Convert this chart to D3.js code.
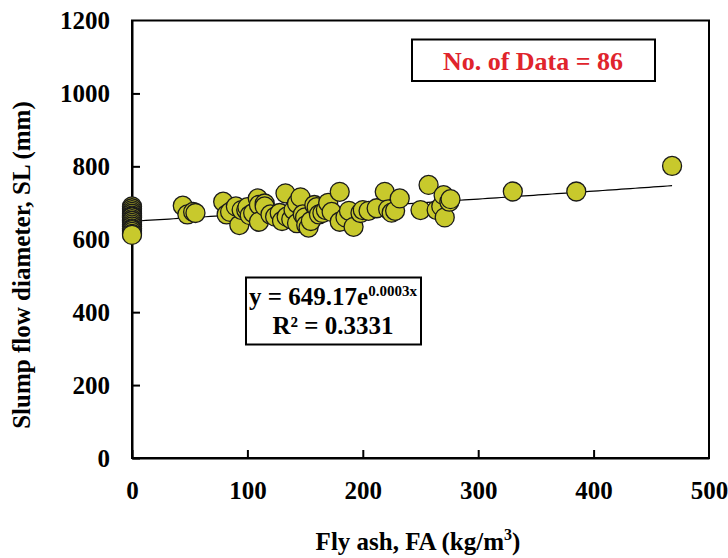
<!DOCTYPE html>
<html>
<head>
<meta charset="utf-8">
<script src="https://cdn.jsdelivr.net/npm/d3@7"></script>
</head>
<body style="margin:0; background:#fff">
<svg id="chart" width="728" height="558" font-family="Liberation Serif" font-weight="bold"></svg>
<script>
// fly ash content (kg/m3) and slump flow (mm)
const flyAsh = [
  0, 0, 0, 0, 0, 0, 0, 0, 0, 0, 0, 0, 0, 0, 0, 0, 0, 0, 0, 0,
  44, 48, 53, 55,
  79, 82, 85, 90, 93, 95, 99, 100, 102, 105,
  109, 110, 110, 115, 115, 120, 124, 128, 130, 133, 134, 138,
  140, 143, 143, 146, 148, 150, 151, 153, 155, 158,
  160, 162, 165, 168, 170, 173, 180, 180, 185, 188, 192, 198,
  200, 205, 212, 219, 222, 225, 228, 232, 250, 257,
  264, 268, 270, 271, 275, 276,
  330, 385, 468
];
const slumpFlow = [
  690, 685, 680, 675, 670, 665, 662, 660, 655, 650, 650, 645, 640, 635, 630, 628, 625, 620, 615, 612,
  692, 668, 675, 672,
  703, 668, 675, 690, 639, 680, 680, 688, 666, 672,
  712, 694, 648, 698, 690, 668, 662, 672, 650, 726, 662, 655,
  680, 698, 644, 715, 668, 660, 639, 632, 650, 694,
  688, 668, 672, 680, 700, 675, 730, 648, 660, 678, 634, 672,
  680, 678, 685, 730, 682, 673, 678, 712, 680, 749,
  680, 690, 721, 660, 703, 710,
  731, 731, 801
];
const xTicks = [0, 100, 200, 300, 400, 500];
const yTicks = [0, 200, 400, 600, 800, 1000, 1200];
// exponential fit shown in the chart
const fitA = 649.17, fitB = 0.0003, fitMaxX = 468;

const FONT = "Liberation Serif";
const svg = d3.select("#chart");
const plotL = 132, plotR = 709, plotT = 20.5, plotB = 458;

const x = d3.scaleLinear().domain([0, 500]).range([plotL, plotR]);
const y = d3.scaleLinear().domain([0, 1200]).range([plotB, plotT]);

// axes with inward ticks
const xAxis = svg.append("g")
  .attr("transform", `translate(0,${plotB})`)
  .call(d3.axisBottom(x).tickValues(xTicks).tickFormat(d3.format("d"))
    .tickSizeInner(-8).tickSizeOuter(0).tickPadding(23));
const yAxis = svg.append("g")
  .attr("transform", `translate(${plotL},0)`)
  .call(d3.axisLeft(y).tickValues(yTicks).tickFormat(d3.format("d"))
    .tickSizeInner(-8).tickSizeOuter(0).tickPadding(22));

[xAxis, yAxis].forEach(g => {
  g.attr("font-family", FONT).attr("font-size", 25).attr("font-weight", "bold");
  g.selectAll("path, line").attr("stroke", "#000").attr("stroke-width", 2);
  g.selectAll("text").attr("fill", "#000");
});
xAxis.select(".tick:last-of-type line").remove();
yAxis.select(".tick:last-of-type line").remove();

// frame
svg.append("rect")
  .attr("x", plotL).attr("y", plotT)
  .attr("width", plotR - plotL).attr("height", plotB - plotT)
  .attr("fill", "none").attr("stroke", "#000").attr("stroke-width", 2);

// fit line
const fitX = d3.range(0, fitMaxX + 1, 4);
svg.append("path")
  .datum(fitX)
  .attr("fill", "none")
  .attr("stroke", "#000")
  .attr("stroke-width", 1.2)
  .attr("d", d3.line().x(d => x(d)).y(d => y(fitA * Math.exp(fitB * d))));

// points
svg.append("g").selectAll("circle")
  .data(flyAsh.map((v, i) => [v, slumpFlow[i]]))
  .enter().append("circle")
  .attr("cx", d => x(d[0]))
  .attr("cy", d => y(d[1]))
  .attr("r", 9.5)
  .attr("fill", "#c8c92c")
  .attr("stroke", "#1a1a1a")
  .attr("stroke-width", 1.3);

// count box
svg.append("rect")
  .attr("x", 412).attr("y", 39.5).attr("width", 243).attr("height", 41.5)
  .attr("fill", "#fff").attr("stroke", "#000").attr("stroke-width", 2);
svg.append("text")
  .attr("x", 533).attr("y", 70)
  .attr("text-anchor", "middle")
  .attr("font-family", FONT).attr("font-weight", "bold")
  .attr("font-size", 26)
  .attr("fill", "#e0242c")
  .text("No. of Data = 86");

// equation box
svg.append("rect")
  .attr("x", 246).attr("y", 277.5).attr("width", 175).attr("height", 67)
  .attr("fill", "#fff").attr("stroke", "#000").attr("stroke-width", 2);
const eq = svg.append("text")
  .attr("x", 333).attr("y", 305)
  .attr("text-anchor", "middle")
  .attr("font-family", FONT).attr("font-weight", "bold")
  .attr("font-size", 25);
eq.append("tspan").text("y = 649.17e");
eq.append("tspan").attr("dy", -9).attr("font-size", 15).text("0.0003x");
svg.append("text")
  .attr("x", 333).attr("y", 334)
  .attr("text-anchor", "middle")
  .attr("font-family", FONT).attr("font-weight", "bold")
  .attr("font-size", 25)
  .text("R² = 0.3331");

// axis titles
const xt = svg.append("text")
  .attr("x", 418).attr("y", 550)
  .attr("text-anchor", "middle")
  .attr("font-family", FONT).attr("font-weight", "bold")
  .attr("font-size", 25);
xt.append("tspan").text("Fly ash, FA (kg/m");
xt.append("tspan").attr("dy", -10).attr("font-size", 16).text("3");
xt.append("tspan").attr("dy", 10).text(")");

svg.append("text")
  .attr("transform", "translate(30,265) rotate(-90)")
  .attr("text-anchor", "middle")
  .attr("font-family", FONT).attr("font-weight", "bold")
  .attr("font-size", 25)
  .text("Slump flow diameter, SL (mm)");
</script>
</body>
</html>
